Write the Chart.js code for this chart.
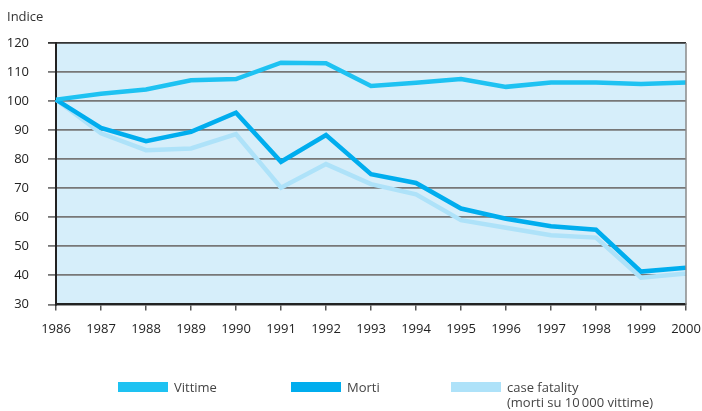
<!DOCTYPE html>
<html>
<head>
<meta charset="utf-8">
<script src="https://cdn.jsdelivr.net/npm/chart.js@4"></script>
<style>
  html, body { margin: 0; padding: 0; background: #fff; }
  #wrap { width: 702px; height: 411px; }
</style>
</head>
<body>
<div id="wrap"><canvas id="chart" width="702" height="411"></canvas></div>
<script>
// data
const years = ['1986', '1987', '1988', '1989', '1990', '1991', '1992', '1993', '1994', '1995', '1996', '1997', '1998', '1999', '2000'];
const vittime = [100.5, 102.5, 104, 107.2, 107.6, 113.2, 113, 105.2, 106.3, 107.6, 104.9, 106.4, 106.4, 105.9, 106.4];
const morti = [100.5, 90.8, 86.2, 89.4, 96, 79.1, 88.3, 74.8, 71.8, 63, 59.5, 56.9, 55.7, 41.3, 42.6];
const caseFatality = [100.5, 88.9, 83.1, 83.7, 88.6, 70.2, 78.3, 71.4, 67.9, 59, 56.4, 53.8, 53, 39.2, 40.6];
const yTicks = [30, 40, 50, 60, 70, 80, 90, 100, 110, 120];

const colVittime = '#1ec2f2';
const colMorti = '#00adee';
const colCase = '#aee2f9';
const fontFam = "'Open Sans', sans-serif";

const legendItems = [
    { color: colVittime, x: 118, text: ['Vittime'] },
    { color: colMorti, x: 291, text: ['Morti'] },
    { color: colCase, x: 451, text: ['case fatality', '(morti su 10\u2009000 vittime)'] }
];

const decor = {
    id: 'decor',
    beforeDraw(chart) {
        const { ctx, chartArea: a } = chart;
        ctx.save();
        ctx.fillStyle = '#d6eefa';
        ctx.fillRect(a.left, a.top, a.right - a.left, a.bottom - a.top);
        ctx.restore();
    },
    afterDraw(chart) {
        const { ctx, chartArea: a } = chart;
        ctx.save();
        // right frame line
        ctx.strokeStyle = '#8a8a8a';
        ctx.lineWidth = 1.5;
        ctx.beginPath();
        ctx.moveTo(a.right, a.top);
        ctx.lineTo(a.right, a.bottom);
        ctx.stroke();
        // axis title
        ctx.fillStyle = '#333';
        ctx.font = '13px ' + fontFam;
        ctx.textBaseline = 'alphabetic';
        ctx.fillText('Indice', 7, 21);
        // legend
        legendItems.forEach(it => {
            ctx.fillStyle = it.color;
            ctx.fillRect(it.x, 382, 50, 10);
            ctx.fillStyle = '#444';
            it.text.forEach((t, i) => ctx.fillText(t, it.x + 56, 392 + i * 15));
        });
        ctx.restore();
    }
};

new Chart(document.getElementById('chart'), {
    type: 'line',
    data: {
        labels: years,
        datasets: [
            { label: 'Vittime', data: vittime, borderColor: colVittime },
            { label: 'Morti', data: morti, borderColor: colMorti },
            { label: 'case fatality', data: caseFatality, borderColor: colCase }
        ]
    },
    options: {
        responsive: false,
        animation: false,
        layout: { padding: { top: 43, right: 0, bottom: 63, left: 0 } },
        elements: {
            line: { borderWidth: 4.5, tension: 0, borderJoinStyle: 'miter', fill: false },
            point: { radius: 0 }
        },
        plugins: {
            legend: { display: false },
            tooltip: { enabled: false }
        },
        scales: {
            x: {
                offset: false,
                afterFit(s) { s.paddingRight = 16; s.paddingLeft = 0; },
                grid: { drawOnChartArea: false, drawTicks: true, tickLength: 6, color: '#555', lineWidth: 1.5 },
                border: { color: '#222', width: 2 },
                ticks: { color: '#222', font: { family: fontFam, size: 13 }, padding: 11, maxRotation: 0, autoSkip: false }
            },
            y: {
                min: 30,
                max: 120,
                afterBuildTicks(s) { s.ticks = yTicks.map(v => ({ value: v })); },
                afterFit(s) { s.width = 56; },
                grid: {
                    tickLength: 8,
                    lineWidth: 1.8,
                    color: c => c.tick && c.tick.value === 120 ? '#333' : '#777'
                },
                border: { color: '#222', width: 2 },
                ticks: { color: '#222', font: { family: fontFam, size: 13 }, padding: 19 }
            }
        }
    },
    plugins: [decor]
});
</script>
</body>
</html>
